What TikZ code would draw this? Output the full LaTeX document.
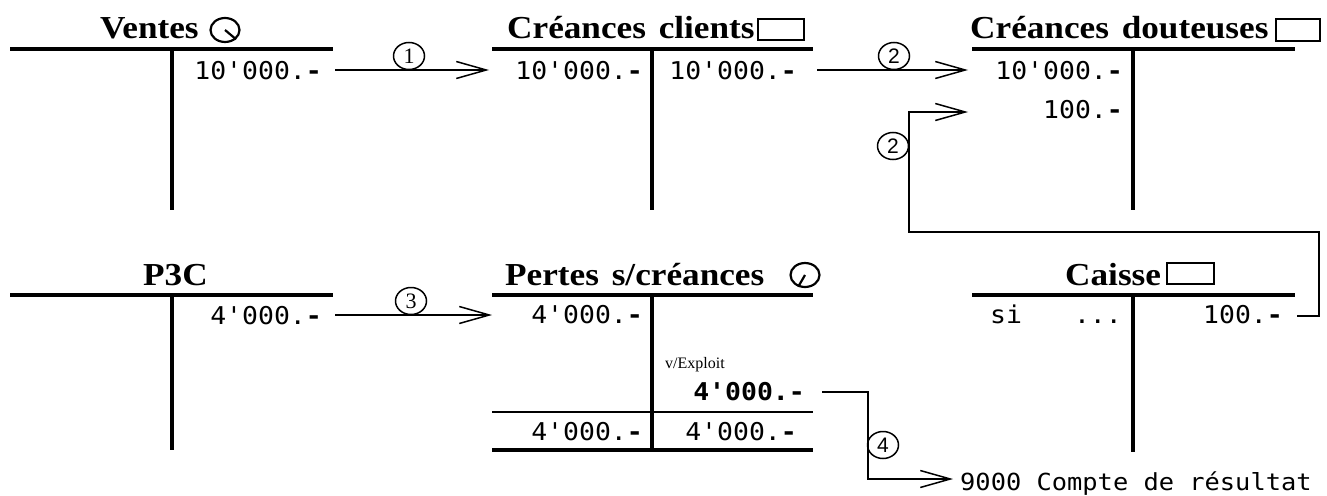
\documentclass[tikz,border=0pt]{standalone}
\usepackage{fontspec}
\setmainfont{Liberation Serif}
\newfontfamily\tfont[FakeStretch=1.1]{Liberation Serif}
\newfontfamily\nfont[FakeStretch=1.08]{DejaVu Sans Mono}
\newfontfamily\sfont{Liberation Sans}
\newcommand{\dsh}{\textbf{-}}
\usetikzlibrary{arrows.meta,shapes.geometric}
\begin{document}
\begin{tikzpicture}[x=1pt,y=-1pt,
  tline/.style={line width=3.6pt},
  thinl/.style={line width=1.6pt},
  conn/.style={line width=1.5pt},
  arr/.style={conn,-{Straight Barb[length=30pt,width=17pt]}},
  title/.style={font=\tfont\bfseries\fontsize{32}{32}\selectfont, anchor=base west, inner sep=0pt},
  amt/.style={font=\nfont\fontsize{24.5}{24.5}\selectfont, anchor=base east, inner sep=0pt},
  bamt/.style={font=\nfont\bfseries\fontsize{24.5}{24.5}\selectfont, anchor=base east, inner sep=0pt},
  num/.style={draw, ellipse, line width=1.5pt, minimum width=31pt, minimum height=27pt, inner sep=0pt},
  ico/.style={draw, ellipse, line width=2.2pt, minimum width=29pt, minimum height=24pt, inner sep=0pt},
  rico/.style={draw, rectangle, line width=2pt, inner sep=0pt}
]
\useasboundingbox (0,0) rectangle (1327,495);

% ---- Ventes
\node[title] (tv) at (100,38) {Ventes};
\node[ico] (iv) at (225,30) {};
\draw[line width=2.2pt] (iv.center) -- (iv.-40);
\draw[tline] (10,49) -- (333,49);
\draw[tline] (172,49) -- (172,210);
\node[amt] (v1) at (322,79) {10'000.\dsh};

% ---- Creances clients
\node[title] (tcc) at (507,38) {Créances\hspace{0.4em}clients};
\node[rico, minimum width=46pt, minimum height=21pt] (icc) at (781,29.5) {};
\draw[tline] (492,49) -- (813,49);
\draw[tline] (652,49) -- (652,210);
\node[amt] (cc1) at (643,79) {10'000.\dsh};
\node[amt] (cc2) at (797,79) {10'000.\dsh};

% ---- Creances douteuses
\node[title] (tcd) at (970,38) {Créances\hspace{0.4em}douteuses};
\node[rico, minimum width=44pt, minimum height=22pt] (icd) at (1298,30) {};
\draw[tline] (972,49) -- (1295,49);
\draw[tline] (1133,49) -- (1133,210);
\node[amt] (cd1) at (1123,79) {10'000.\dsh};
\node[amt] (cd2) at (1123,118) {100.\dsh};

% ---- P3C
\node[title] (tp) at (143,285) {P3C};
\draw[tline] (10,295) -- (333,295);
\draw[tline] (172,295) -- (172,450);
\node[amt] (p1) at (322,324) {4'000.\dsh};

% ---- Pertes s/creances
\node[title] (tpc) at (505,285) {Pertes\hspace{0.4em}s/créances};
\node[ico] (ipc) at (805,275) {};
\draw[line width=2.2pt] (ipc.center) -- (ipc.-120);
\draw[tline] (492,295) -- (813,295);
\draw[tline] (652,295) -- (652,450);
\node[amt] (pl1) at (643,323) {4'000.\dsh};
\node[anchor=base west, inner sep=0pt, font=\fontsize{16}{16}\selectfont] (pv) at (665,368) {v/Exploit};
\node[bamt] (pb) at (805,400) {4'000.-};
\draw[thinl] (492,412) -- (813,412);
\node[amt] (pl2) at (643,440) {4'000.\dsh};
\node[amt] (pr2) at (797,440) {4'000.\dsh};
\draw[tline] (492,450) -- (813,450);

% ---- Caisse
\node[title] (tca) at (1065,285) {Caisse};
\node[rico, minimum width=47pt, minimum height=21pt] (ica) at (1190.5,273.5) {};
\draw[tline] (972,295) -- (1295,295);
\draw[tline] (1133,295) -- (1133,452);
\node[amt, anchor=base west] (si) at (990,323) {si};
\node[amt] (dots) at (1122,323) {...};
\node[amt] (ca1) at (1283,323) {100.\dsh};

% ---- result account
\node[anchor=base west, inner sep=0pt, font=\nfont\fontsize{23.5}{23.5}\selectfont] (res) at (960,490) {9000 Compte de résultat};

% ---- connectors
\coordinate (a1s) at (335,70);   \coordinate (a1e) at (489,70);
\coordinate (a2s) at (817,70);   \coordinate (a2e) at (968,70);
\coordinate (a3s) at (335,315);  \coordinate (a3e) at (492,315);
\coordinate (b2s) at (1297,316); \coordinate (b2e) at (968,112);
\coordinate (a4s) at (822,392);  \coordinate (a4e) at (953,479);

\draw[arr] (a1s) -- (a1e);
\draw[arr] (a2s) -- (a2e);
\draw[arr] (a3s) -- (a3e);
\draw[arr] (b2s) -- (1319,316) -- (1319,232) -- (909,232) -- (909,112) -- (b2e);
\draw[arr] (a4s) -- (868,392) -- (868,479) -- (a4e);

\node[num, font=\fontsize{22}{22}\selectfont] (n1) at (409,56) {1};
\node[num, font=\sfont\fontsize{21}{21}\selectfont] (n2) at (894,56) {2};
\node[num, font=\sfont\fontsize{21}{21}\selectfont] (n2b) at (893,146) {2};
\node[num, font=\fontsize{22}{22}\selectfont] (n3) at (411,301) {3};
\node[num, font=\sfont\fontsize{21}{21}\selectfont] (n4) at (883,445) {4};
\end{tikzpicture}
\end{document}
